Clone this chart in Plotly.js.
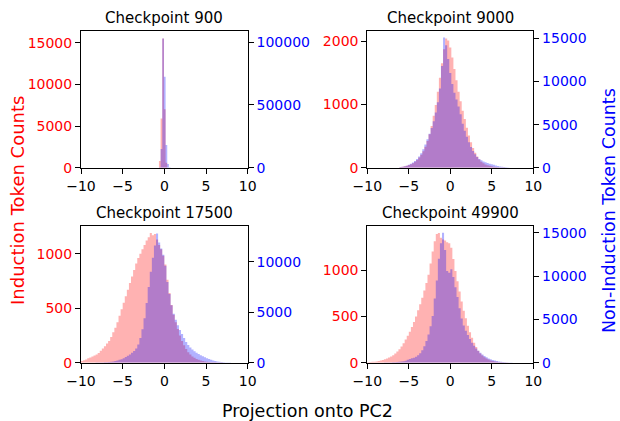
<!DOCTYPE html>
<html>
<head>
<meta charset="utf-8">
<script src="https://cdn.plot.ly/plotly-3.0.1.min.js"></script>
<style>html,body{margin:0;padding:0;background:#fff;}#chart{width:620px;height:421px;}</style>
</head>
<body>
<div id="chart"></div>
<script>
// ---------------- data (bin counts) ----------------
const checkpoints = ["Checkpoint 900", "Checkpoint 9000", "Checkpoint 17500", "Checkpoint 49900"];
const xTickVals = [-10, -5, 0, 5, 10];
const xTickText = ["\u221210", "\u22125", "0", "5", "10"];

// Checkpoint 900: bin width 0.2, first bin centre -0.55
const bins900 = {start: -0.55, width: 0.2};
const induction900 = [800, 5900, 15500, 7000, 600, 0, 0];
const nonInduction900 = [300, 15000, 103000, 72600, 18100, 2950, 300];

// Checkpoint 9000: bin width 0.25, first bin centre -6.0
const bins9000 = {start: -6.0, width: 0.25};
const induction9000 = [10, 15, 22, 30, 42, 55, 72, 92, 120, 160, 205, 260, 330, 420, 530, 660, 820, 990, 1200, 1420, 1650, 1870, 2040, 2010,
  1900, 1740, 1560, 1380, 1200, 1050, 900, 770, 630, 510, 400, 310, 235, 175, 130, 95, 70, 52, 40, 30, 22, 16, 11, 8, 5, 3, 2, 1, 0];
const nonInduction9000 = [80, 120, 170, 240, 330, 460, 600, 780, 1000, 1300, 1680, 2150, 2700, 3300, 3950, 4600, 5400, 6400, 7600, 9200, 11800, 15100, 14200, 12600,
  11000, 9700, 8700, 7900, 7100, 6200, 5100, 4300, 3600, 2950, 2400, 1950, 1550, 1250, 1020, 850, 720, 620, 540, 470, 400, 330, 260, 200, 150, 110, 80, 55, 35];

// Checkpoint 17500: bin width 0.25, first bin centre -9.875
const bins17500 = {start: -9.875, width: 0.25};
const induction17500 = [15, 22, 30, 40, 48, 56, 65, 75, 90, 110, 130, 150, 175, 200, 235, 280, 320, 370, 430, 490,
  550, 610, 670, 730, 790, 850, 910, 960, 1000, 1040, 1080, 1120, 1150, 1190, 1170, 1180, 1130, 1080, 1040, 980,
  900, 760, 640, 530, 440, 370, 310, 250, 200, 160, 125, 95, 75, 58, 45, 35, 27, 21, 16, 12,
  9, 7, 5, 4, 3, 2, 1, 1, 0, 0, 0, 0];
const nonInduction17500 = [0, 0, 0, 0, 0, 0, 5, 10, 15, 20, 30, 40,
  55, 75, 100, 130, 170, 220, 280, 350, 450, 560, 680, 820, 980, 1150, 1400, 1800, 2450, 3300, 4400, 5900, 7500, 9000, 10400, 11600, 12800, 11900, 11300, 10700,
  9600, 8000, 6800, 5700, 4850, 4250, 3700, 3250, 2850, 2450, 2050, 1750, 1500, 1300, 1130, 990, 860, 740, 630, 530,
  440, 360, 290, 230, 170, 125, 90, 60, 40, 25, 15, 8];

// Checkpoint 49900: bin width 0.25, first bin centre -9.875
const bins49900 = {start: -9.875, width: 0.25};
const induction49900 = [5, 7, 9, 11, 14, 18, 23, 30, 38, 46, 55, 66, 80, 100, 120, 145, 175, 210, 250, 290,
  335, 385, 440, 500, 565, 630, 700, 780, 860, 950, 1070, 1200, 1310, 1390, 1400, 1350, 1330, 1320, 1300, 1290,
  1240, 1120, 990, 880, 770, 660, 560, 480, 400, 330, 270, 215, 170, 130, 100, 78, 60, 45, 34, 25,
  18, 13, 9, 6, 4, 3, 2, 1, 0, 0, 0, 0];
const nonInduction49900 = [0, 0, 0, 0, 0, 0, 0, 5, 10, 15, 20, 30,
  40, 55, 75, 100, 130, 170, 220, 340, 420, 510, 560, 680, 850, 1100, 1450, 1900, 2500, 3250, 4200, 5400,
  7400, 9500, 12000, 13800, 15000, 13000, 10600, 10400,
  10800, 9900, 8700, 7600, 6300, 5100, 4300, 3700, 3200, 2750, 2300, 1950, 1650, 1380, 1150, 950, 780, 620, 490, 390,
  310, 240, 185, 140, 100, 70, 48, 32, 20, 12, 6, 3];

// ---------------- layout helpers ----------------
const W = 620, H = 421;
const FONT = "DejaVu Sans, Liberation Sans, sans-serif";
function px2x(p) { return p / W; }
function px2y(p) { return (H - p) / H; }

const panels = [
  {title: checkpoints[0], bins: bins900, red: induction900, blue: nonInduction900,
   xd: [81, 247.7], yd: [31, 167.7], lrange: [0, 16400], ltick: [0, 5000, 10000, 15000], rrange: [0, 109000], rtick: [0, 50000, 100000]},
  {title: checkpoints[1], bins: bins9000, red: induction9000, blue: nonInduction9000,
   xd: [367.3, 533.3], yd: [31, 167.7], lrange: [0, 2159], ltick: [0, 1000, 2000], rrange: [0, 15858], rtick: [0, 5000, 10000, 15000]},
  {title: checkpoints[2], bins: bins17500, red: induction17500, blue: nonInduction17500,
   xd: [81, 247.7], yd: [226, 362.7], lrange: [0, 1254], ltick: [0, 500, 1000], rrange: [0, 13535], rtick: [0, 5000, 10000]},
  {title: checkpoints[3], bins: bins49900, red: induction49900, blue: nonInduction49900,
   xd: [367.3, 533.3], yd: [226, 362.7], lrange: [0, 1476], ltick: [0, 500, 1000], rrange: [0, 15785], rtick: [0, 5000, 10000, 15000]}
];

// histogram outline as a filled step curve: one point at each bin's left edge, plus the final right edge
function stepHist(bins, counts) {
  const x = [], y = [];
  for (let i = 0; i < counts.length; i++) { x.push(bins.start - bins.width / 2 + i * bins.width); y.push(counts[i]); }
  x.push(bins.start - bins.width / 2 + counts.length * bins.width); y.push(counts[counts.length - 1]);
  return {x, y};
}

const traces = [];
const layout = {
  width: W, height: H,
  margin: {l: 0, r: 0, t: 0, b: 0},
  paper_bgcolor: "#fff", plot_bgcolor: "rgba(0,0,0,0)",
  showlegend: false,
  font: {family: FONT, size: 14, color: "#000"},
  annotations: []
};

panels.forEach((p, i) => {
  const xn = i === 0 ? "" : String(i + 1);
  const yl = String(2 * i + 1), yr = String(2 * i + 2);
  const ylName = yl === "1" ? "" : yl;
  const r = stepHist(p.bins, p.red), b = stepHist(p.bins, p.blue);
  traces.push({type: "scatter", mode: "lines", x: r.x, y: r.y, line: {shape: "hv", width: 0, color: "rgba(255,0,0,0)"},
    fill: "tozeroy", fillcolor: "rgba(255,0,0,0.3)", xaxis: "x" + xn, yaxis: "y" + ylName, hoverinfo: "skip"});
  traces.push({type: "scatter", mode: "lines", x: b.x, y: b.y, line: {shape: "hv", width: 0, color: "rgba(0,0,255,0)"},
    fill: "tozeroy", fillcolor: "rgba(0,0,255,0.3)", xaxis: "x" + xn, yaxis: "y" + yr, hoverinfo: "skip"});

  const common = {showgrid: false, zeroline: false, showline: true, linecolor: "#000", linewidth: 1,
    ticks: "outside", ticklen: 5, tickwidth: 1, tickcolor: "#000"};
  layout["xaxis" + xn] = Object.assign({}, common, {
    domain: [px2x(p.xd[0]), px2x(p.xd[1])], anchor: "y" + ylName, range: [-10, 10],
    tickmode: "array", tickvals: xTickVals, ticktext: xTickText, mirror: true,
    tickfont: {family: FONT, size: 14, color: "#000"}});
  layout["yaxis" + ylName] = Object.assign({}, common, {
    domain: [px2y(p.yd[1]), px2y(p.yd[0])], anchor: "x" + xn, range: p.lrange,
    tickmode: "array", tickvals: p.ltick, ticktext: p.ltick.map(String),
    tickfont: {family: FONT, size: 14, color: "red"}});
  layout["yaxis" + yr] = Object.assign({}, common, {
    overlaying: "y" + ylName, side: "right", anchor: "x" + xn, range: p.rrange,
    tickmode: "array", tickvals: p.rtick, ticktext: p.rtick.map(String),
    tickfont: {family: FONT, size: 14, color: "blue"}});

  layout.annotations.push({text: p.title, xref: "paper", yref: "paper",
    x: px2x((p.xd[0] + p.xd[1]) / 2), y: px2y(p.yd[0]), xanchor: "center", yanchor: "bottom", yshift: 2,
    showarrow: false, font: {family: FONT, size: 15, color: "#000"}});
});

layout.annotations.push({text: "Projection onto PC2", xref: "paper", yref: "paper",
  x: px2x(307), y: px2y(411), xanchor: "center", yanchor: "middle", showarrow: false,
  font: {family: FONT, size: 17.5, color: "#000"}});
layout.annotations.push({text: "Induction Token Counts", xref: "paper", yref: "paper",
  x: px2x(17), y: px2y(201), xanchor: "center", yanchor: "middle", textangle: -90, showarrow: false,
  font: {family: FONT, size: 18, color: "red"}});
layout.annotations.push({text: "Non-Induction Token Counts", xref: "paper", yref: "paper",
  x: px2x(609), y: px2y(211), xanchor: "center", yanchor: "middle", textangle: -90, showarrow: false,
  font: {family: FONT, size: 17.5, color: "blue"}});

Plotly.newPlot("chart", traces, layout, {staticPlot: true, displayModeBar: false});
</script>
</body>
</html>
